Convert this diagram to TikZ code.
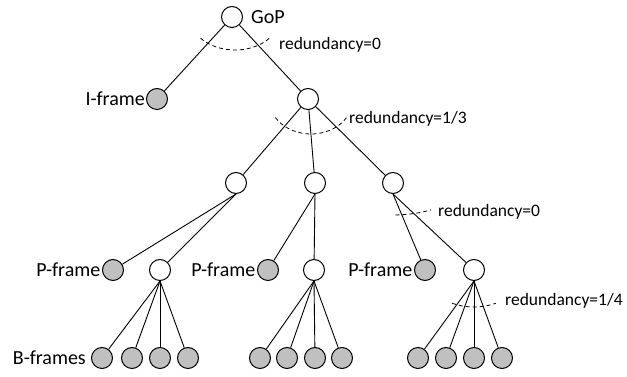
\documentclass[tikz,border=0pt]{standalone}
\usepackage{fontspec}
\setmainfont{Carlito}
\usetikzlibrary{positioning}
\definecolor{framegray}{RGB}{192,192,192}
\tikzset{
   whitenode/.style={draw, circle, line width=1pt, minimum size=21pt, inner sep=0pt, fill=white},
   graynode/.style={whitenode, fill=framegray},
   tag/.style={inner sep=0pt, font=\fontsize{20}{24}\selectfont},
   redtag/.style={inner sep=0pt, anchor=west, font=\fontsize{17.5}{21}\selectfont},
   redarc/.style={line width=0.8pt, dash pattern=on 4pt off 3pt}
}
\begin{document}
\begin{tikzpicture}[x=1pt, y=1pt]
      \useasboundingbox (0,0) rectangle (627,377);
      \def \WhiteNodes {
         gop/232/360,
         top/308/278,
         pa/236/194,
         pb/315/194,
         pc/393/194,
         sa/160/107,
         sb/314/107,
         sc/474/107}
      \def \GrayNodes {
         iframe/157/278,
         fa/113/107,
         fb/268/107,
         fc/425/107,
         ba1/102/19, ba2/132/19, ba3/160/19, ba4/188/19,
         bb1/260/19, bb2/287/19, bb3/315/19, bb4/342/19,
         bc1/418/19, bc2/446/19, bc3/474/19, bc4/502/19}
      \def \Edges {
         gop/iframe,
         gop/top,
         top/pa,
         top/pb,
         top/pc}
      \def \Fans {
         pa/fa, pa/sa,
         pb/fb, pb/sb,
         pc/fc, pc/sc,
         sa/ba1, sa/ba2, sa/ba3, sa/ba4,
         sb/bb1, sb/bb2, sb/bb3, sb/bb4,
         sc/bc1, sc/bc2, sc/bc3, sc/bc4}
      \foreach \u / \x / \y in \WhiteNodes {
         \node[whitenode] (\u) at (\x, \y) {};
      }
      \foreach \u / \x / \y in \GrayNodes {
         \node[graynode] (\u) at (\x, \y) {};
      }
      \foreach \u / \v in \Edges {
         \path[draw, line width=0.9pt] (\u) -- (\v);
      }
      \foreach \u / \v in \Fans {
         \path[draw, line width=0.9pt] (\u.south) -- (\v);
      }
      % labels of the frames
      \node[tag, right=8pt of gop] (goptxt) {GoP};
      \node[tag, left=1pt of iframe] (itxt) {I-frame};
      \node[tag, left=1.5pt of fa] (fatxt) {P-frame};
      \node[tag, left=1.5pt of fb] (fbtxt) {P-frame};
      \node[tag, left=1.5pt of fc] (fctxt) {P-frame};
      \node[tag, left=5pt of ba1] (btxt) {B-frames};
      % redundancy arcs
      \draw[redarc] ([xshift=3pt]gop.center) ++(220:45 and 33) arc[start angle=220, end angle=320, x radius=45, y radius=33];
      \draw[redarc] ([xshift=3pt]top.center) ++(212:42 and 35) arc[start angle=212, end angle=328, x radius=42, y radius=35];
      \draw[redarc] (pc.center) ++(-88:70 and 32) arc[start angle=-88, end angle=-57, x radius=70, y radius=32];
      \draw[redarc] (sc.center) ++(244:50 and 37) arc[start angle=244, end angle=296, x radius=50, y radius=37];
      \node[redtag] (r0) at (279, 332) {redundancy=0};
      \node[redtag] (r1) at (349, 258) {redundancy=1/3};
      \node[redtag] (r2) at (438, 165) {redundancy=0};
      \node[redtag] (r3) at (505, 76) {redundancy=1/4};
   \end{tikzpicture}
\end{document}
